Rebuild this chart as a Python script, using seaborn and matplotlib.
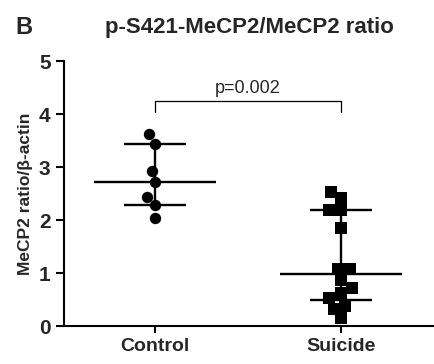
import numpy as np
import pandas as pd
import matplotlib
matplotlib.use("Agg")
import matplotlib.pyplot as plt
import seaborn as sns

# values
groups = ["Control", "Suicide"]
control = [3.62, 3.43, 2.93, 2.72, 2.44, 2.28, 2.04]
suicide = [2.54, 2.42, 2.20, 2.19, 1.86, 1.08, 1.08, 0.87, 0.72, 0.62,
           0.53, 0.38, 0.33, 0.16]
p_text = "p=0.002"
title = "p-S421-MeCP2/MeCP2 ratio"
ylabel = "MeCP2 ratio/\u03b2-actin"

df = pd.DataFrame({
    "group": ["Control"] * len(control) + ["Suicide"] * len(suicide),
    "value": control + suicide,
})

sns.set_style("ticks")
plt.rcParams["font.family"] = ["Liberation Sans", "DejaVu Sans"]
plt.rcParams["font.weight"] = "bold"

fig = plt.figure(figsize=(4.34, 3.64), dpi=100)
ax = fig.add_axes([0.147, 0.104, 0.853, 0.728])

markers = {"Control": "o", "Suicide": "s"}
for g in groups:
    sns.swarmplot(data=df[df["group"] == g], x="group", y="value", order=groups,
                  marker=markers[g], color="black", size=8.2, ax=ax)

# median with interquartile range
for i, g in enumerate(groups):
    vals = df.loc[df["group"] == g, "value"].to_numpy()
    med = np.median(vals)
    q1, q3 = np.percentile(vals, [25, 75], method="weibull")
    ax.hlines(med, i - 0.33, i + 0.33, color="black", lw=1.7, zorder=5)
    ax.hlines([q1, q3], i - 0.165, i + 0.165, color="black", lw=1.7, zorder=5)
    ax.vlines(i, q1, q3, color="black", lw=1.7, zorder=5)

# significance bracket
ax.plot([0, 0, 1, 1], [4.04, 4.25, 4.25, 4.04], color="black", lw=0.9)
ax.text(0.5, 4.32, p_text, ha="center", va="bottom", fontsize=13,
        fontweight="normal")

ax.set_xlim(-0.49, 1.5)
ax.set_ylim(0, 5)
ax.set_yticks(range(0, 6))
ax.set_xlabel("")
ax.set_ylabel(ylabel, fontsize=12.5, fontweight="bold", labelpad=4)
ax.tick_params(axis="both", labelsize=14, width=1.5, length=6, color="black")
ax.tick_params(axis="y", labelsize=15)
ax.tick_params(axis="x", length=5)
for lab in ax.get_xticklabels() + ax.get_yticklabels():
    lab.set_fontweight("bold")
for s in ["left", "bottom"]:
    ax.spines[s].set_linewidth(1.5)
    ax.spines[s].set_color("black")
sns.despine(ax=ax)

fig.text(0.575, 0.925, title, ha="center", va="center", fontsize=16,
         fontweight="bold")
fig.text(0.035, 0.925, "B", ha="left", va="center", fontsize=17,
         fontweight="bold")

fig.savefig("out.png", dpi=100)
